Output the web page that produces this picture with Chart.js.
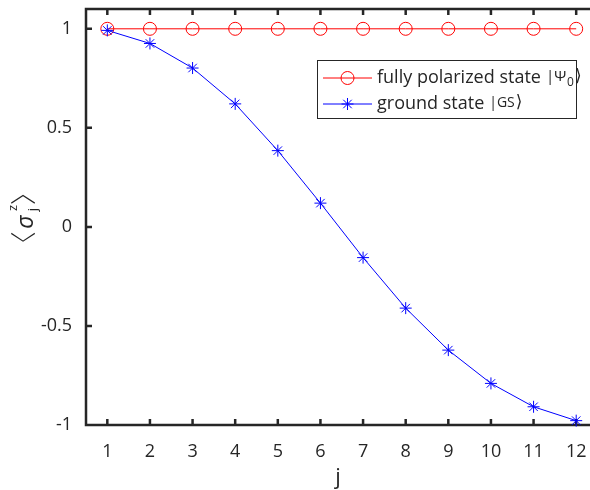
<!DOCTYPE html>
<html>
<head>
<meta charset="utf-8">
<script src="https://cdn.jsdelivr.net/npm/chart.js@4/dist/chart.umd.min.js"></script>
<style>
html,body{margin:0;padding:0;background:#fff;overflow:hidden;width:590px;height:490px;}
#wrap{position:absolute;left:0;top:0;width:610px;height:490px;}
</style>
</head>
<body>
<div id="wrap"><canvas id="c" width="610" height="490"></canvas></div>
<script>
// ---- data ----
const sites = [1, 2, 3, 4, 5, 6, 7, 8, 9, 10, 11, 12];
const polarizedState = [1, 1, 1, 1, 1, 1, 1, 1, 1, 1, 1, 1];
const groundState = [0.992, 0.926, 0.802, 0.621, 0.385, 0.12, -0.155, -0.41, -0.622, -0.79, -0.908, -0.978];
const xTickValues = [1, 2, 3, 4, 5, 6, 7, 8, 9, 10, 11, 12];
const yTickValues = [-1, -0.5, 0, 0.5, 1];
const yTickLabels = ['-1', '-0.5', '0', '0.5', '1'];
const legendLabels = ['fully polarized state', 'ground state'];

const AX = '#262626';
const FONT = '"Open Sans", "DejaVu Sans", sans-serif';

const decor = {
  id: 'decor',
  beforeDatasetsDraw(chart) {
    const {ctx, chartArea: a, scales: {x, y}} = chart;
    ctx.save();
    ctx.strokeStyle = AX;
    ctx.lineWidth = 2.5;
    ctx.beginPath();
    ctx.moveTo(a.left, a.top); ctx.lineTo(a.right, a.top);
    ctx.moveTo(a.left, a.top - 1.25); ctx.lineTo(a.left, a.bottom + 1.25);
    ctx.moveTo(a.left, a.bottom); ctx.lineTo(a.right, a.bottom);
    ctx.moveTo(a.right, a.top); ctx.lineTo(a.right, a.bottom);
    yTickValues.forEach(v => {
      const py = y.getPixelForValue(v);
      ctx.moveTo(a.left, py); ctx.lineTo(a.left + 6, py);
      ctx.moveTo(a.right, py); ctx.lineTo(a.right - 6, py);
    });
    xTickValues.forEach(v => {
      const px = x.getPixelForValue(v);
      ctx.moveTo(px, a.bottom); ctx.lineTo(px, a.bottom - 6);
      ctx.moveTo(px, a.top); ctx.lineTo(px, a.top + 6);
    });
    ctx.stroke();
    ctx.restore();
  },
  afterDraw(chart) {
    const {ctx} = chart;
    ctx.save();
    // legend box
    ctx.fillStyle = '#fff';
    ctx.fillRect(317.5, 60.5, 259, 58);
    ctx.strokeStyle = AX;
    ctx.lineWidth = 1;
    ctx.strokeRect(317.5, 60.5, 259, 58);
    // red sample
    ctx.strokeStyle = '#ff0000';
    ctx.beginPath(); ctx.moveTo(323, 78); ctx.lineTo(372, 78); ctx.stroke();
    ctx.beginPath(); ctx.arc(347.5, 78, 6.5, 0, Math.PI * 2); ctx.stroke();
    // blue sample
    ctx.strokeStyle = '#0000ff';
    ctx.beginPath(); ctx.moveTo(323, 104); ctx.lineTo(372, 104); ctx.stroke();
    ctx.beginPath();
    const r = 6;
    for (let k = 0; k < 4; k++) {
      const ang = k * Math.PI / 4;
      ctx.moveTo(347.5 + r * Math.cos(ang), 104 + r * Math.sin(ang));
      ctx.lineTo(347.5 - r * Math.cos(ang), 104 - r * Math.sin(ang));
    }
    ctx.stroke();
    // legend text
    ctx.fillStyle = AX;
    ctx.textBaseline = 'middle';
    ctx.textAlign = 'left';
    ctx.font = '18px ' + FONT;
    ctx.fillText(legendLabels[0], 377, 78);
    let w = ctx.measureText(legendLabels[0]).width;
    let xx = 377 + w + 5;
    ctx.font = '15px ' + FONT;
    ctx.fillText('|\u03A8', xx, 77);
    xx += ctx.measureText('|\u03A8').width + 1;
    ctx.font = '12px ' + FONT;
    ctx.fillText('0', xx, 83);
    xx += ctx.measureText('0').width + 1;
    ctx.font = '17px "DejaVu Sans", sans-serif';
    ctx.fillText('\u27E9', xx, 77);

    ctx.font = '18px ' + FONT;
    ctx.fillText(legendLabels[1], 377, 104);
    w = ctx.measureText(legendLabels[1]).width;
    xx = 377 + w + 5;
    ctx.font = '14px ' + FONT;
    ctx.fillText('|GS', xx, 103);
    xx += ctx.measureText('|GS').width + 1;
    ctx.font = '17px "DejaVu Sans", sans-serif';
    ctx.fillText('\u27E9', xx, 103);

    // x title
    ctx.textAlign = 'center';
    ctx.font = '22px ' + FONT;
    ctx.fillText('j', 338, 478);

    // y title (rotated)
    ctx.translate(25, 218);
    ctx.rotate(-Math.PI / 2);
    ctx.font = '300 26px "Noto Sans CJK JP", "DejaVu Sans", sans-serif';
    ctx.fillText('\u3008', -26.5, -1.5);
    ctx.fillText('\u3009', 26, -1.5);
    ctx.font = 'italic 23px ' + FONT;
    ctx.fillText('\u03C3', -4, 1);
    ctx.font = '13px ' + FONT;
    ctx.fillText('z', 10, -12);
    ctx.fillText('j', 8.5, 8);
    ctx.restore();
  }
};

new Chart(document.getElementById('c'), {
  type: 'line',
  data: {
    datasets: [
      {
        label: legendLabels[1],
        data: sites.map((s, i) => ({x: s, y: groundState[i]})),
        borderColor: '#0000ff',
        backgroundColor: 'rgba(0,0,0,0)',
        borderWidth: 1,
        pointStyle: 'star',
        pointRadius: 6,
        pointBorderWidth: 1,
        pointBorderColor: '#0000ff',
        tension: 0,
        order: 0,
        clip: false
      },
      {
        label: legendLabels[0],
        data: sites.map((s, i) => ({x: s, y: polarizedState[i]})),
        borderColor: '#ff0000',
        backgroundColor: 'rgba(0,0,0,0)',
        borderWidth: 1,
        pointStyle: 'circle',
        pointRadius: 6.5,
        pointBorderWidth: 1,
        pointBorderColor: '#ff0000',
        pointBackgroundColor: 'rgba(0,0,0,0)',
        tension: 0,
        order: 1,
        clip: false
      }
    ]
  },
  options: {
    responsive: false,
    animation: false,
    events: [],
    layout: {padding: {top: 9, right: 12.5, left: 0, bottom: 0}},
    plugins: {legend: {display: false}, tooltip: {enabled: false}},
    scales: {
      x: {
        type: 'linear',
        min: 0.5, max: 12.5,
        afterBuildTicks: s => { s.ticks = xTickValues.map(v => ({value: v})); },
        afterFit: s => { s.height = 65; s.paddingLeft = 0; s.paddingRight = 0; },
        grid: {display: false, drawTicks: false},
        border: {display: false},
        ticks: {color: AX, font: {family: FONT, size: 18}, padding: 16, maxRotation: 0, autoSkip: false,
                callback: v => String(v)}
      },
      y: {
        type: 'linear',
        min: -1, max: 1.1,
        afterBuildTicks: s => { s.ticks = yTickValues.map(v => ({value: v})); },
        afterFit: s => { s.width = 86; s.paddingTop = 0; s.paddingBottom = 0; },
        grid: {display: false, drawTicks: false},
        border: {display: false},
        ticks: {color: AX, font: {family: FONT, size: 18}, padding: 14,
                callback: v => { const i = yTickValues.indexOf(v); return i >= 0 ? yTickLabels[i] : ''; }}
      }
    }
  },
  plugins: [decor]
});
</script>
</body>
</html>
